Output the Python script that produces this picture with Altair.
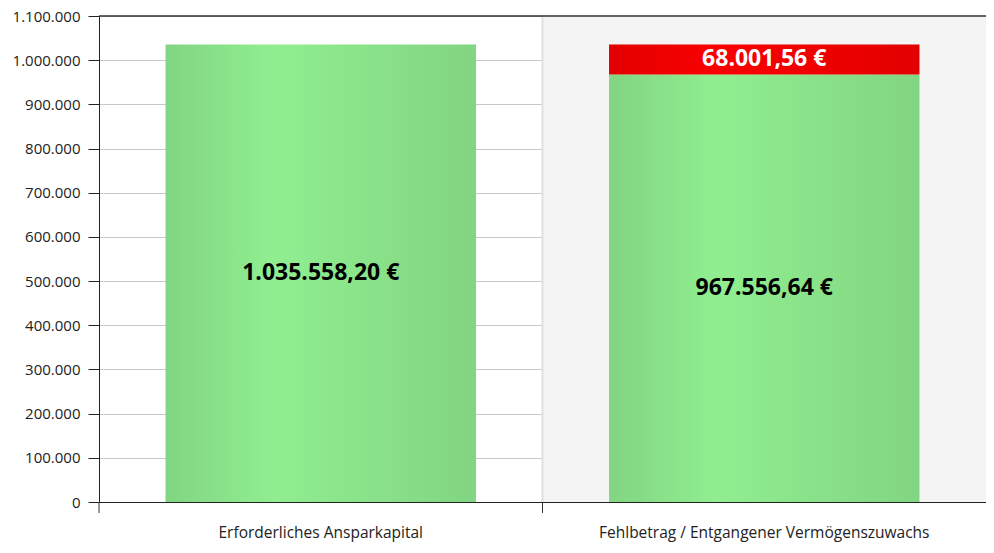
import altair as alt
import pandas as pd

categories = ["Erforderliches Ansparkapital", "Fehlbetrag / Entgangener Vermögenszuwachs"]
green_values = [1035558.20, 967556.64]
red_values = [0.0, 68001.56]
y_ticks = [0, 100000, 200000, 300000, 400000, 500000, 600000, 700000, 800000, 900000, 1000000, 1100000]

FONT = "Open Sans"
PLOT_H = 486

df = pd.DataFrame({
    "cat": categories,
    "g0": [0.0, 0.0],
    "g1": green_values,
    "r0": green_values,
    "r1": [g + r for g, r in zip(green_values, red_values)],
    "rv": red_values,
})

xscale = alt.Scale(domain=categories, paddingInner=0, paddingOuter=0)
yscale = alt.Scale(domain=[0, 1100000], nice=False)

x_enc = alt.X("cat:N", scale=xscale, sort=categories,
              axis=alt.Axis(title=None, ticks=False, labelPadding=23, labelFontSize=15.5,
                            labelFont=FONT, labelColor="#222", labelAngle=0, labelLimit=0,
                            domainColor="#222", domainWidth=1, labelBaseline="top"))

green_grad = alt.Gradient(gradient="linear", x1=0, x2=1, y1=0, y2=0, stops=[
    alt.GradientStop(color="#82d582", offset=0),
    alt.GradientStop(color="#90ee90", offset=0.35),
    alt.GradientStop(color="#82d582", offset=1),
])
red_grad = alt.Gradient(gradient="linear", x1=0, x2=1, y1=0, y2=0, stops=[
    alt.GradientStop(color="#e20000", offset=0),
    alt.GradientStop(color="#fa0000", offset=0.35),
    alt.GradientStop(color="#e20000", offset=1),
])

base = alt.Chart(df)

band_bg = base.transform_filter(alt.datum.cat == categories[1]).mark_rect(color="#f4f4f4").encode(
    x=x_enc,
    y=alt.Y("g0:Q", scale=yscale),
    y2=alt.datum(1100000),
)

grid_axis = alt.Axis(title=None, values=y_ticks, labelExpr="replace(format(datum.value, ','), regexp(',', 'g'), '.')",
                     grid=True, gridColor="#c8c8c8", gridWidth=1, tickColor="#222", tickSize=11,
                     domainColor="#222", labelFontSize=15, labelFont=FONT, labelColor="#222",
                     labelPadding=8)

grid_layer = base.mark_rule(opacity=0).encode(
    y=alt.Y("g0:Q", scale=yscale, axis=grid_axis),
)

sep = base.transform_filter(alt.datum.cat == categories[1]).mark_rule(color="#e0e0e0", strokeWidth=2).encode(
    x=alt.X("cat:N", scale=xscale, sort=categories, bandPosition=0),
    y=alt.datum(0),
    y2=alt.datum(1100000),
)

xticks = base.mark_rule(color="#333", strokeWidth=1).encode(
    x=alt.X("cat:N", scale=xscale, sort=categories, bandPosition=0),
    y=alt.value(PLOT_H),
    y2=alt.value(PLOT_H + 11),
)

top_line = base.mark_rule(color="#333", strokeWidth=1).encode(
    y=alt.datum(1100000),
)

green_bars = base.mark_bar(color=green_grad, width=alt.RelativeBandSize(0.7)).encode(
    x=x_enc,
    y=alt.Y("g0:Q", scale=yscale),
    y2="g1:Q",
)

red_bars = base.transform_filter(alt.datum.rv > 0).mark_bar(color=red_grad, width=alt.RelativeBandSize(0.7)).encode(
    x=x_enc,
    y=alt.Y("r0:Q", scale=yscale),
    y2="r1:Q",
)

label_expr = "replace(replace(replace(format(datum.v, ',.2f'), regexp(',', 'g'), '#'), regexp('\\\\.', 'g'), ','), regexp('#', 'g'), '.') + ' €'"

green_labels = base.transform_calculate(
    mid="datum.g1 / 2", v="datum.g1"
).transform_calculate(lbl=label_expr).mark_text(
    font=FONT, fontSize=23, fontWeight="bold", color="#000", baseline="middle", align="center"
).encode(
    x=x_enc,
    y=alt.Y("mid:Q", scale=yscale),
    text="lbl:N",
)

red_labels = base.transform_filter(alt.datum.rv > 0).transform_calculate(
    mid="(datum.r0 + datum.r1) / 2", v="datum.rv"
).transform_calculate(lbl=label_expr).mark_text(
    font=FONT, fontSize=23, fontWeight="bold", color="#fff", baseline="middle", align="center"
).encode(
    x=x_enc,
    y=alt.Y("mid:Q", scale=yscale),
    text="lbl:N",
)

chart = alt.layer(
    band_bg, grid_layer, sep, top_line, green_bars, red_bars, green_labels, red_labels, xticks
).properties(
    width=887, height=PLOT_H,
    autosize=alt.AutoSizeParams(type="none"),
    padding={"left": 91, "top": 8, "right": 0, "bottom": 42},
).configure_view(stroke=None).configure(background="white")

chart.save("out.html", embed_options={"renderer": "svg", "actions": False})
